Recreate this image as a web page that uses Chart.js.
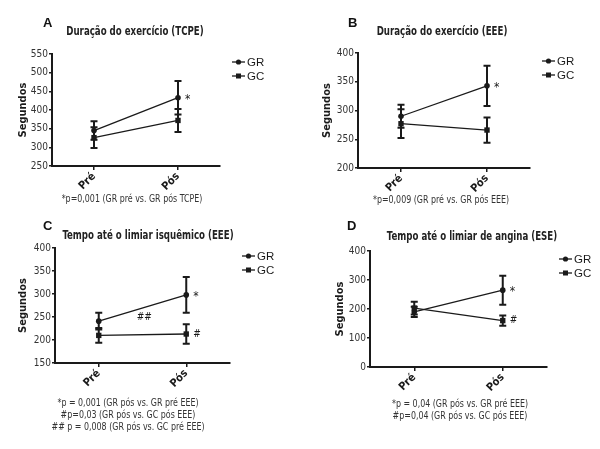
<!DOCTYPE html>
<html>
<head>
<meta charset="utf-8">
<script src="https://cdn.jsdelivr.net/npm/chart.js@4"></script>
<style>
  body { margin: 0; background: #fff; }
  #wrap { position: relative; width: 600px; height: 449px; overflow: hidden; font-family: "Liberation Sans Narrow", "Arial Narrow", "DejaVu Sans Condensed", sans-serif; color: #222; }
  canvas { position: absolute; }
  .letter { position: absolute; font: bold 13px "Liberation Sans", Arial, sans-serif; color: #111; }
  .title { position: absolute; transform: translateX(-50%) scaleX(0.8); white-space: nowrap; font-weight: bold; font-size: 12px; color: #222; }
  .note { position: absolute; transform: translateX(-50%) scaleX(0.88); white-space: nowrap; font-size: 10px; line-height: 12px; text-align: center; color: #333; }
</style>
</head>
<body>
<div id="wrap">
  <canvas id="chartA" width="300" height="215" style="left:0;top:0"></canvas>
  <canvas id="chartB" width="300" height="215" style="left:300px;top:0"></canvas>
  <canvas id="chartC" width="300" height="234" style="left:0;top:215px"></canvas>
  <canvas id="chartD" width="300" height="234" style="left:300px;top:215px"></canvas>

  <div class="letter" style="left:43px;top:15px">A</div>
  <div class="title" style="left:135px;top:24px">Duração do exercício (TCPE)</div>
  <div class="note" style="left:132px;top:193px">*p=0,001 (GR pré vs. GR pós TCPE)</div>

  <div class="letter" style="left:348px;top:15px">B</div>
  <div class="title" style="left:442px;top:24px">Duração do exercício (EEE)</div>
  <div class="note" style="left:441px;top:194px">*p=0,009 (GR pré vs. GR pós EEE)</div>

  <div class="letter" style="left:43px;top:218px">C</div>
  <div class="title" style="left:148px;top:228px">Tempo até o limiar isquêmico (EEE)</div>
  <div class="note" style="left:128px;top:397px">*p = 0,001 (GR pós vs. GR pré EEE)<br>#p=0,03 (GR pós vs. GC pós EEE)<br>## p = 0,008 (GR pós vs. GC pré EEE)</div>

  <div class="letter" style="left:347px;top:218px">D</div>
  <div class="title" style="left:472px;top:229px">Tempo até o limiar de angina (ESE)</div>
  <div class="note" style="left:460px;top:398px">*p = 0,04 (GR pós vs. GR pré EEE)<br>#p=0,04 (GR pós vs. GC pós EEE)</div>
</div>

<script>
const categories = ['Pré', 'Pós'];
const seriesNames = ['GR', 'GC'];

// A - Duração do exercício (TCPE)
const grA = [345, 433];
const grAErr = [25, 45];
const gcA = [326, 372];
const gcAErr = [28, 31];
const ticksA = [250, 300, 350, 400, 450, 500, 550];

// B - Duração do exercício (EEE)
const grB = [290, 343];
const grBErr = [20, 35];
const gcB = [277, 266];
const gcBErr = [25, 22];
const ticksB = [200, 250, 300, 350, 400];

// C - Tempo até o limiar isquêmico (EEE)
const grC = [241, 298];
const grCErr = [18, 39];
const gcC = [210, 213];
const gcCErr = [16, 21];
const ticksC = [150, 200, 250, 300, 350, 400];

// D - Tempo até o limiar de angina (ESE)
const grD = [190, 265];
const grDErr = [18, 50];
const gcD = [203, 160];
const gcDErr = [22, 18];
const ticksD = [0, 100, 200, 300, 400];

// significance marks (data coords)
const marksA = [{ text: '*', x: 1, y: 433 }];
const marksB = [{ text: '*', x: 1, y: 343 }];
const marksC = [{ text: '*', x: 1, y: 298 }, { text: '#', x: 1, y: 213 }, { text: '##', x: 0.52, y: 250, center: true }];
const marksD = [{ text: '*', x: 1, y: 265 }, { text: '#', x: 1, y: 160 }];

const NARROW = '"Liberation Sans Narrow", "Arial Narrow", "DejaVu Sans Condensed", sans-serif';
const SANS = '"Liberation Sans", Arial, sans-serif';
const INK = '#1a1a1a';

// error bars, marks and legend
const extras = {
  id: 'extras',
  beforeDatasetsDraw(chart) {
    const ctx = chart.ctx;
    const xs = chart.scales.x, ys = chart.scales.y;
    ctx.save();
    ctx.strokeStyle = INK;
    ctx.lineWidth = 2;
    chart.data.datasets.forEach(ds => {
      ds.data.forEach((p, i) => {
        const e = ds.errors[i];
        const x = xs.getPixelForValue(p.x);
        const yt = ys.getPixelForValue(p.y + e);
        const yb = ys.getPixelForValue(p.y - e);
        ctx.beginPath();
        ctx.moveTo(x, yt); ctx.lineTo(x, yb);
        ctx.moveTo(x - 3.5, yt); ctx.lineTo(x + 3.5, yt);
        ctx.moveTo(x - 3.5, yb); ctx.lineTo(x + 3.5, yb);
        ctx.stroke();
      });
    });
    ctx.restore();
  },
  afterDraw(chart) {
    const ctx = chart.ctx;
    const xs = chart.scales.x, ys = chart.scales.y;
    const area = chart.chartArea;
    ctx.save();
    ctx.fillStyle = INK;
    ctx.textBaseline = 'middle';
    (chart.options.plugins.extras.marks || []).forEach(m => {
      const x = xs.getPixelForValue(m.x);
      const y = ys.getPixelForValue(m.y);
      ctx.font = (m.text === '*' ? '12px ' : '10px ') + NARROW;
      ctx.textAlign = m.center ? 'center' : 'left';
      ctx.fillText(m.text, m.center ? x : x + 7, m.text === '*' ? y + 2 : y);
    });
    // legend
    ctx.font = '11.5px ' + SANS;
    ctx.textAlign = 'left';
    chart.data.datasets.forEach((ds, k) => {
      const lx = area.right + 12;
      const ly = area.top + 8 + k * 14;
      ctx.strokeStyle = INK;
      ctx.lineWidth = 1.3;
      ctx.beginPath();
      ctx.moveTo(lx, ly); ctx.lineTo(lx + 13, ly);
      ctx.stroke();
      if (ds.pointStyle === 'rect') {
        ctx.fillRect(lx + 4, ly - 2.5, 5, 5);
      } else {
        ctx.beginPath();
        ctx.arc(lx + 6.5, ly, 2.6, 0, Math.PI * 2);
        ctx.fill();
      }
      ctx.fillText(ds.label, lx + 15, ly + 0.5);
    });
    ctx.restore();
  }
};

function makePanel(id, gr, grErr, gc, gcErr, yTicks, marks, box) {
  const canvas = document.getElementById(id);
  const W = canvas.width, H = canvas.height;
  const xAxisH = 40;
  const toPts = arr => categories.map((c, i) => ({ x: i, y: arr[i] }));
  return new Chart(canvas, {
    type: 'line',
    data: {
      datasets: [
        { label: seriesNames[0], data: toPts(gr), errors: grErr, pointStyle: 'circle', pointRadius: 2.8 },
        { label: seriesNames[1], data: toPts(gc), errors: gcErr, pointStyle: 'rect', pointRadius: 3.8 }
      ].map(d => Object.assign(d, {
        borderColor: INK, backgroundColor: INK, borderWidth: 1.3,
        pointBackgroundColor: INK, pointBorderColor: INK, pointBorderWidth: 0,
        fill: false, tension: 0
      }))
    },
    options: {
      responsive: false,
      animation: false,
      devicePixelRatio: 1,
      layout: { padding: { left: 0, top: box.t, right: W - box.r, bottom: H - box.b - xAxisH } },
      plugins: {
        legend: { display: false },
        tooltip: { enabled: false },
        extras: { marks: marks }
      },
      scales: {
        x: {
          type: 'linear',
          min: -0.5,
          max: 1.5,
          afterBuildTicks: s => { s.ticks = categories.map((c, i) => ({ value: i })); },
          afterFit: s => { s.height = xAxisH; },
          ticks: {
            callback: v => categories[v],
            minRotation: 45, maxRotation: 45,
            color: INK, padding: 0,
            font: { family: NARROW, size: 11, weight: 'bold' }
          },
          grid: { drawOnChartArea: false, drawTicks: true, tickLength: 4, color: INK, lineWidth: 1.5 },
          border: { display: true, color: INK, width: 2 }
        },
        y: {
          min: yTicks[0],
          max: yTicks[yTicks.length - 1],
          afterBuildTicks: s => { s.ticks = yTicks.map(v => ({ value: v })); },
          afterFit: s => { s.width = box.l; },
          ticks: { color: '#333', padding: 1, font: { family: NARROW, size: 10 } },
          grid: { drawOnChartArea: false, drawTicks: true, tickLength: 3, color: INK, lineWidth: 1.5 },
          border: { display: true, color: INK, width: 2 },
          title: {
            display: true, text: 'Segundos', color: INK,
            font: { family: NARROW, size: 11, weight: 'bold' },
            padding: { top: box.tx - 6.5, bottom: 0 }
          }
        }
      }
    },
    plugins: [extras]
  });
}

makePanel('chartA', grA, grAErr, gcA, gcAErr, ticksA, marksA, { l: 52, t: 54, r: 220, b: 166, tx: 23 });
makePanel('chartB', grB, grBErr, gcB, gcBErr, ticksB, marksB, { l: 58, t: 53, r: 230, b: 168, tx: 27 });
makePanel('chartC', grC, grCErr, gcC, gcCErr, ticksC, marksC, { l: 55, t: 33, r: 230, b: 148, tx: 23 });
makePanel('chartD', grD, grDErr, gcD, gcDErr, ticksD, marksD, { l: 70, t: 36, r: 247, b: 152, tx: 40 });
</script>
</body>
</html>
